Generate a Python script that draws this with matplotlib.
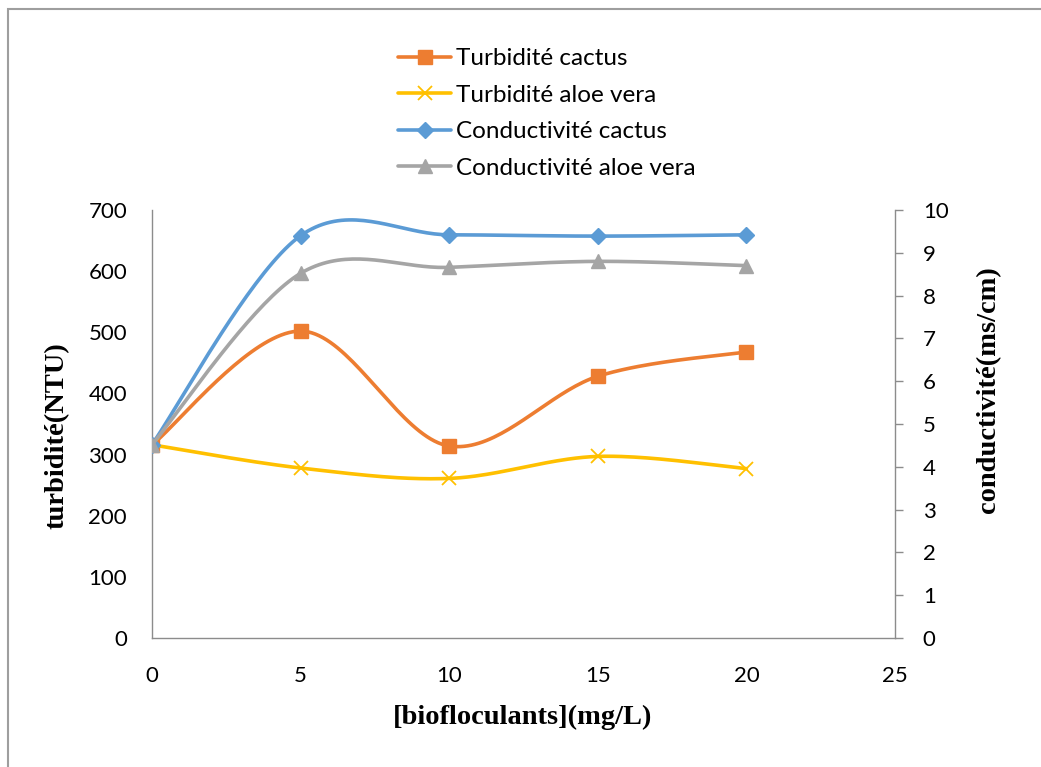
import numpy as np
import matplotlib
matplotlib.use("Agg")
import matplotlib.pyplot as plt
from matplotlib.patches import Rectangle

# Biofloculant dose (mg/L)
dose = [0, 5, 10, 15, 20]
# Turbidity (NTU)
turb_cactus = [316, 502, 314, 428, 468]
turb_aloe = [316, 278, 261, 297, 277]
# Conductivity (ms/cm)
cond_cactus = [4.52, 9.40, 9.42, 9.39, 9.42]
cond_aloe = [4.52, 8.52, 8.66, 8.80, 8.70]

x_ticks = [0, 5, 10, 15, 20, 25]
left_ticks = [0, 100, 200, 300, 400, 500, 600, 700]
right_ticks = list(range(0, 11))

ORANGE = "#ED7D31"
YELLOW = "#FFC000"
BLUE = "#5B9BD5"
GRAY = "#A5A5A5"
AXIS = "#8C8C8C"

TICK_FONT = "Lato"
LABEL_FONT = "Liberation Serif"


def smooth(x, y, n=40):
    """Cardinal Bezier smoothing through every point (spreadsheet style)."""
    P = np.column_stack([np.asarray(x, float), np.asarray(y, float)])
    pts = [P[0]]
    idx = [0]
    t = np.linspace(0, 1, n + 1)[1:, None]
    for i in range(len(P) - 1):
        p0 = P[i - 1] if i > 0 else P[i]
        p1, p2 = P[i], P[i + 1]
        p3 = P[i + 2] if i + 2 < len(P) else P[i + 1]
        c1 = p1 + (p2 - p0) / 6.0
        c2 = p2 - (p3 - p1) / 6.0
        seg = ((1 - t) ** 3) * p1 + 3 * ((1 - t) ** 2) * t * c1 \
            + 3 * (1 - t) * (t ** 2) * c2 + (t ** 3) * p2
        pts.extend(seg)
        idx.append(len(pts) - 1)
    pts = np.array(pts)
    return pts[:, 0], pts[:, 1], idx


W, H = 1041, 767
fig = plt.figure(figsize=(W / 100, H / 100), dpi=100)
fig.patch.set_facecolor("white")

# outer chart frame
fig.add_artist(Rectangle((7.5 / W, -0.1), 1.2, 1 - 9 / H + 0.1,
                         transform=fig.transFigure, fill=False,
                         edgecolor="#9E9E9E", lw=1.5, clip_on=False))

ax = fig.add_axes([152 / W, (H - 638) / H, (895 - 152) / W, (638 - 210) / H])
ax2 = ax.twinx()

for a in (ax, ax2):
    a.set_facecolor("none")
    for s in a.spines.values():
        s.set_visible(False)

ax.spines["left"].set_visible(True)
ax.spines["bottom"].set_visible(True)
ax2.spines["right"].set_visible(True)
for s in (ax.spines["left"], ax.spines["bottom"], ax2.spines["right"]):
    s.set_color(AXIS)
    s.set_linewidth(1.0)

lw = 2.6
xs, ys, mi = smooth(dose, turb_cactus)
ax.plot(xs, ys, color=ORANGE, lw=lw, marker="s", markersize=9.5,
        markevery=mi, label="Turbidité cactus", solid_capstyle="round")
xs, ys, mi = smooth(dose, turb_aloe)
ax.plot(xs, ys, color=YELLOW, lw=lw, marker="x", markersize=10,
        markeredgewidth=1.3, markevery=mi, label="Turbidité aloe vera",
        solid_capstyle="round")
xs, ys, mi = smooth(dose, cond_cactus)
ax2.plot(xs, ys, color=BLUE, lw=lw, marker="D", markersize=8,
         markevery=mi, label="Conductivité cactus", solid_capstyle="round")
xs, ys, mi = smooth(dose, cond_aloe)
ax2.plot(xs, ys, color=GRAY, lw=lw, marker="^", markersize=10.5,
         markevery=mi, label="Conductivité aloe vera", solid_capstyle="round")

ax.set_xlim(0, 25)
ax.set_ylim(0, 700)
ax2.set_ylim(0, 10)
ax.set_xticks(x_ticks)
ax.set_yticks(left_ticks)
ax2.set_yticks(right_ticks)

TS = 16
ax.tick_params(axis="x", length=0, pad=20, labelsize=TS, labelcolor="black")
ax.tick_params(axis="y", length=0, pad=18, labelsize=TS, labelcolor="black")
ax2.tick_params(axis="y", length=6, width=1.0, color=AXIS, direction="out",
                pad=14, labelsize=TS, labelcolor="black")
for lab in ax.get_xticklabels() + ax.get_yticklabels() + ax2.get_yticklabels():
    lab.set_family(TICK_FONT)

# axis titles
LS = 20.5
fig.text(523 / W, 1 - 717 / H, "[biofloculants](mg/L)", ha="center",
         va="center", family=LABEL_FONT, fontweight="bold", fontsize=LS)
fig.text(57 / W, 1 - 436 / H, "turbidité(NTU)", ha="center", va="center",
         rotation=90, family=LABEL_FONT, fontweight="bold", fontsize=LS)
fig.text(989 / W, 1 - 390 / H, "conductivité(ms/cm)", ha="center",
         va="center", rotation=90, family=LABEL_FONT, fontweight="bold",
         fontsize=LS)

h1, l1 = ax.get_legend_handles_labels()
h2, l2 = ax2.get_legend_handles_labels()
fig.legend(h1 + h2, l1 + l2, loc="center",
           bbox_to_anchor=(547 / W, 1 - 113.5 / H),
           frameon=False, borderpad=0, handlelength=2.2, handletextpad=0.2,
           labelspacing=0.64, prop={"family": TICK_FONT, "size": 17.5})

fig.savefig("out.png", dpi=100, facecolor="white")
